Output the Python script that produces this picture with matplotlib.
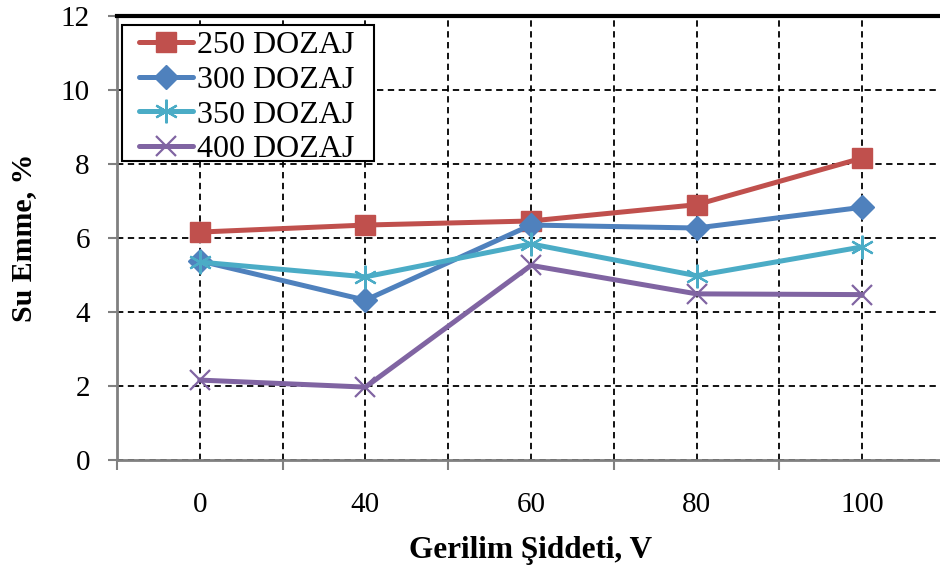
import numpy as np
import matplotlib.pyplot as plt
from matplotlib.patches import Rectangle
from matplotlib.ticker import FixedLocator

plt.rcParams['font.family'] = ['Liberation Serif', 'DejaVu Serif']

# Gerilim şiddeti (V) kategorileri ve su emme (%) değerleri
gerilim = ['0', '40', '60', '80', '100']
dozaj_250 = [6.16, 6.35, 6.46, 6.90, 8.16]
dozaj_300 = [5.38, 4.32, 6.35, 6.27, 6.83]
dozaj_350 = [5.35, 4.95, 5.84, 4.98, 5.76]
dozaj_400 = [2.16, 1.97, 5.26, 4.49, 4.47]

seriler = [
    ('250 DOZAJ', dozaj_250, '#C0504D', 's', 15, None),
    ('300 DOZAJ', dozaj_300, '#4F81BD', 'D', 12, None),
    ('350 DOZAJ', dozaj_350, '#4BACC6', (6, 2, 0), 17, 1.6),
    ('400 DOZAJ', dozaj_400, '#8064A2', 'x', 14, 1.6),
]

fig = plt.figure(figsize=(9.4, 5.67), dpi=100)
ax = fig.add_axes([117 / 940, 107 / 567, 828 / 940, 444 / 567])

x = np.arange(len(gerilim))
for ad, deger, renk, isaret, boyut, mew in seriler:
    kw = dict(markeredgewidth=mew) if mew else {}
    ax.plot(x, deger, color=renk, linewidth=3.6, marker=isaret, markersize=boyut,
            markerfacecolor=renk, markeredgecolor=renk, label=ad, zorder=3,
            solid_capstyle='round', **kw)

ax.set_xlim(-0.5, len(gerilim) - 0.5)
ax.set_ylim(0, 12)
ax.set_xticks(x)
ax.set_xticklabels(gerilim)
ax.xaxis.set_minor_locator(FixedLocator(np.arange(-0.5, len(gerilim), 1.0)))
ax.set_yticks(np.arange(0, 13, 2))

ax.tick_params(axis='x', which='major', length=0, labelsize=21, pad=23)
ax.tick_params(axis='x', which='minor', length=7, width=1.5, color='#808080', direction='out')
ax.tick_params(axis='y', which='major', length=6.5, width=1.5, color='#808080',
               direction='out', labelsize=21, pad=13)

ax.grid(True, which='both', axis='x', color='black', linestyle=(0, (3.5, 2.5)), linewidth=1.3)
ax.grid(True, which='major', axis='y', color='black', linestyle=(0, (3.5, 2.5)), linewidth=1.3)
ax.set_axisbelow(True)

ax.spines['top'].set_linewidth(3)
ax.spines['top'].set_color('black')
ax.spines['left'].set_color('#808080')
ax.spines['left'].set_linewidth(2)
ax.spines['bottom'].set_color('#808080')
ax.spines['bottom'].set_linewidth(2)
ax.spines['right'].set_linewidth(3)

ax.set_xlabel('Gerilim Şiddeti, V', fontsize=22.5, fontweight='bold', labelpad=13)
ax.set_ylabel('Su Emme, %', fontsize=21.5, fontweight='bold', labelpad=17)

# lejant çerçevesi ayrı çiziliyor (yatay/dikey boşluklar farklı)
ax.add_patch(Rectangle((0.006, 0.673), 0.304, 0.307, transform=ax.transAxes,
                       facecolor='white', edgecolor='black', linewidth=1.5,
                       zorder=4, clip_on=False))
leg = ax.legend(loc='upper left', bbox_to_anchor=(0.026, 0.967), fontsize=23,
                frameon=False, handlelength=1.72, handletextpad=0.1,
                labelspacing=0.17, borderpad=0, borderaxespad=0)
leg.set_zorder(5)

fig.savefig('out.png', dpi=100)
